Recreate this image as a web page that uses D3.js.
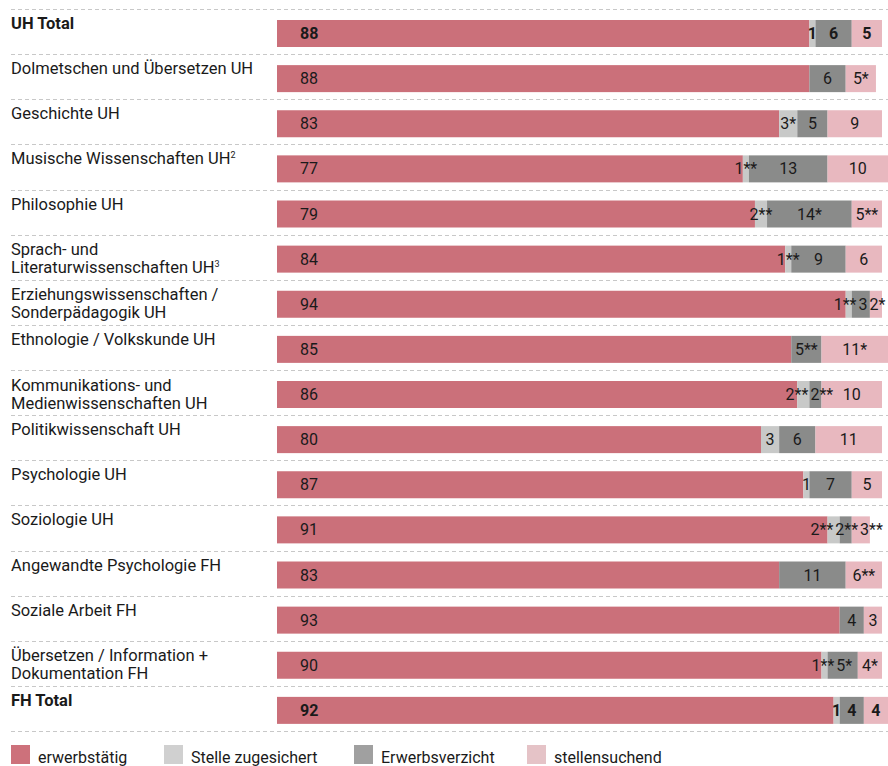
<!DOCTYPE html>
<html>
<head>
<meta charset="utf-8">
<script src="https://cdn.jsdelivr.net/npm/d3@7"></script>
<style>
  body { margin: 0; background: #fff; }
  svg text { font-family: Roboto, "Noto Sans", sans-serif; fill: #1a1a1a; }
</style>
</head>
<body>
<div id="chart"></div>
<script>
// row labels, lines split by "|", superscript by "^"
var categories = [
    "UH Total",
    "Dolmetschen und Übersetzen UH",
    "Geschichte UH",
    "Musische Wissenschaften UH^2",
    "Philosophie UH",
    "Sprach- und|Literaturwissenschaften UH^3",
    "Erziehungswissenschaften /|Sonderpädagogik UH",
    "Ethnologie / Volkskunde UH",
    "Kommunikations- und|Medienwissenschaften UH",
    "Politikwissenschaft UH",
    "Psychologie UH",
    "Soziologie UH",
    "Angewandte Psychologie FH",
    "Soziale Arbeit FH",
    "Übersetzen / Information +|Dokumentation FH",
    "FH Total"
];
var boldRows = ["UH Total", "FH Total"];

var seriesNames = ["erwerbstätig", "Stelle zugesichert", "Erwerbsverzicht", "stellensuchend"];

var erwerbstaetig = [88, 88, 83, 77, 79, 84, 94, 85, 86, 80, 87, 91, 83, 93, 90, 92];
var zugesichert   = [1, 0, 3, 1, 2, 1, 1, 0, 2, 3, 1, 2, 0, 0, 1, 1];
var verzicht      = [6, 6, 5, 13, 14, 9, 3, 5, 2, 6, 7, 2, 11, 4, 5, 4];
var suchend       = [5, 5, 9, 10, 5, 6, 2, 11, 10, 11, 5, 3, 6, 3, 4, 4];

// asterisk annotations per series
var marksZugesichert = ["", "", "*", "**", "**", "**", "**", "", "**", "", "", "**", "", "", "**", ""];
var marksVerzicht    = ["", "", "", "", "*", "", "", "**", "**", "", "", "**", "", "", "*", ""];
var marksSuchend     = ["", "*", "", "", "**", "", "*", "*", "", "", "", "**", "**", "", "*", ""];

var barColors    = ["#cb707a", "#c8c9c8", "#8a8b8a", "#e8b8bf"];
var legendColors = ["#cd717b", "#d0d0d0", "#a0a0a0", "#e5c3c7"];

var width = 888, height = 766;

var svg = d3.select("#chart").append("svg")
    .attr("width", width)
    .attr("height", height);

var y = d3.scaleBand()
    .domain(categories)
    .range([9, 731]);

var x = d3.scaleLinear()
    .domain([0, 100])
    .range([277, 882]);

var values = [erwerbstaetig, zugesichert, verzicht, suchend];
var marks = [null, marksZugesichert, marksVerzicht, marksSuchend];

// build stacked rows
var rows = categories.map(function(cat, i) {
    var x0 = 0;
    var segs = values.map(function(arr, s) {
        var seg = { series: s, value: arr[i], x0: x0, x1: x0 + arr[i],
                    label: arr[i] + (marks[s] ? marks[s][i] : "") };
        x0 += arr[i];
        return seg;
    });
    return { name: cat, bold: boldRows.indexOf(cat) >= 0, segs: segs };
});

// dashed separators
var lines = categories.map(function(c) { return y(c); }).concat([y.range()[1]]);
svg.append("g").selectAll("line")
    .data(lines)
    .enter().append("line")
    .attr("x1", 11).attr("x2", width)
    .attr("y1", function(d) { return Math.round(d) + 0.5; })
    .attr("y2", function(d) { return Math.round(d) + 0.5; })
    .attr("stroke", "#c8c8c8")
    .attr("stroke-width", 1)
    .attr("stroke-dasharray", "4,3");

var row = svg.append("g").selectAll("g.row")
    .data(rows)
    .enter().append("g")
    .attr("class", "row")
    .attr("transform", function(d) { return "translate(0," + y(d.name) + ")"; });

// row labels
row.each(function(d) {
    var parts = d.name.split("|");
    parts.forEach(function(p, k) {
        var sup = p.split("^");
        var t = d3.select(this).append("text")
            .attr("x", 11)
            .attr("y", (parts.length > 1 ? 20.5 : 20) + k * 18)
            .attr("font-size", 16.5)
            .attr("font-weight", d.bold ? "bold" : "normal");
        t.append("tspan").text(sup[0]);
        if (sup[1]) {
            t.append("tspan")
                .attr("font-size", 9)
                .attr("dy", -6)
                .text(sup[1]);
        }
    }, this);
});

// bars
row.selectAll("rect")
    .data(function(d) { return d.segs.filter(function(s) { return s.value > 0; }); })
    .enter().append("rect")
    .attr("x", function(s) { return x(s.x0); })
    .attr("width", function(s) { return x(s.x1) - x(s.x0); })
    .attr("y", 11)
    .attr("height", 27)
    .attr("fill", function(s) { return barColors[s.series]; });

// value labels: first left aligned, the others centred and pushed apart when they collide
row.each(function(d) {
    var g = d3.select(this);
    var segs = d.segs.filter(function(s) { return s.value > 0; });
    var texts = g.selectAll("text.val")
        .data(segs)
        .enter().append("text")
        .attr("class", "val")
        .attr("y", 30)
        .attr("font-size", 16)
        .attr("font-weight", d.bold ? "bold" : "normal")
        .text(function(s) { return s.label; });

    texts.each(function(s) {
        s.w = this.getComputedTextLength();
        s.tx = s.series === 0 ? x(0) + 23 : (x(s.x0) + x(s.x1)) / 2 - s.w / 2;
    });

    var rest = segs.filter(function(s) { return s.series > 0; });
    var gap = 2;
    for (var it = 0; it < 40; it++) {
        for (var k = 0; k < rest.length - 1; k++) {
            var a = rest[k], b = rest[k + 1];
            var over = a.tx + a.w + gap - b.tx;
            if (over > 0) {
                a.tx -= over / 2;
                b.tx += over / 2;
            }
        }
        var last = rest[rest.length - 1];
        if (last && last.tx + last.w > width) last.tx = width - last.w;
    }

    texts.attr("x", function(s) { return s.tx; });
});

// legend
var legendX = [11, 164, 354, 527];
var legend = svg.append("g").selectAll("g")
    .data(seriesNames)
    .enter().append("g")
    .attr("transform", function(d, i) { return "translate(" + legendX[i] + ",745)"; });

legend.append("rect")
    .attr("width", 19)
    .attr("height", 19)
    .attr("fill", function(d, i) { return legendColors[i]; });

legend.append("text")
    .attr("x", 27)
    .attr("y", 18)
    .attr("font-size", 16)
    .text(function(d) { return d; });
</script>
</body>
</html>
